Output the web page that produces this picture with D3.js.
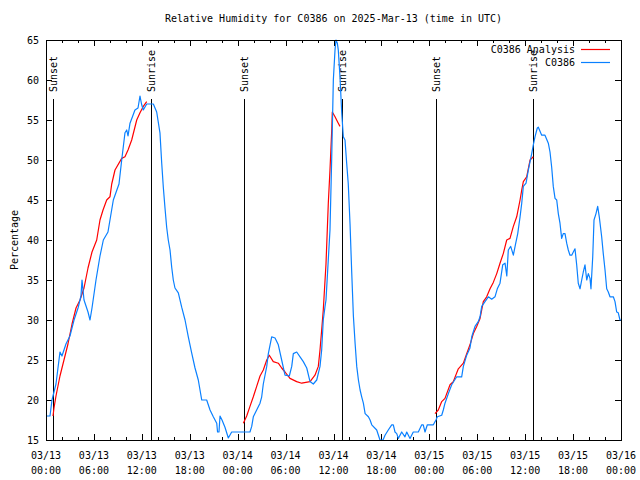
<!DOCTYPE html>
<html lang="en">
<head>
  <meta charset="UTF-8">
  <title>Relative Humidity for C0386</title>
  <script src="https://cdn.jsdelivr.net/npm/d3@7"></script>
  <style>
    body { margin: 0; background: #fff; }
    svg { font-family: "DejaVu Sans Mono", monospace; font-size: 10px; }
  </style>
</head>
<body>
<div id="chart"></div>
<script>
  const TITLE = 'Relative Humidity for C0386 on 2025-Mar-13 (time in UTC)'
  const Y_LABEL = 'Percentage'
  const START = Date.UTC(2025, 2, 13)
  const END = Date.UTC(2025, 2, 16)
  const Y_TICKS = [15, 20, 25, 30, 35, 40, 45, 50, 55, 60, 65]
  const SERIES_NAMES = ['C0386 Analysis', 'C0386']
  const SERIES_COLORS = ['#ff0000', '#0a80ff']

  // [hours since 03/13 00:00 UTC, event]
  const sunEvents = [
    [0.88, 'Sunset'], [13.17, 'Sunrise'],
    [24.9, 'Sunset'], [37.15, 'Sunrise'],
    [48.92, 'Sunset'], [61.1, 'Sunrise']
  ]

  // observed station values, [hour, %]
  const observed = [
    [0, 18], [0.5, 18], [0.75, 20], [1.25, 22], [1.75, 26], [2, 25.5], [2.5, 27], [3, 28],
    [3.51, 30], [4.01, 31.5], [4.38, 33], [4.51, 35], [4.76, 32.5], [5.26, 31], [5.51, 30],
    [5.76, 31.5], [6.26, 35], [6.76, 38], [7.18, 40], [7.76, 41], [8.43, 45], [9.14, 47],
    [9.48, 50], [9.89, 53.4], [10.11, 53.75], [10.27, 53], [10.52, 54.6], [11.14, 56.25],
    [11.52, 56.5], [11.77, 58], [11.96, 57], [12.18, 56.25], [12.61, 57], [13.02, 57],
    [13.44, 57], [13.86, 56], [14.27, 53.4], [14.49, 49.6], [14.69, 46.6], [14.9, 44],
    [15.11, 41.6], [15.31, 40], [15.53, 38.75], [15.74, 36.6], [15.94, 35], [16.15, 34],
    [16.57, 33.4], [16.99, 31.6], [17.41, 30], [17.82, 27.9], [18.24, 25.9], [18.66, 24],
    [19.07, 22.5], [19.5, 20], [20.12, 20], [20.54, 18.75], [20.95, 17.9], [21.38, 17.1],
    [21.48, 16], [21.66, 16], [21.79, 18], [22.04, 17.5], [22.41, 16.6], [22.83, 15.25],
    [23.25, 16], [25.54, 16], [25.76, 16.7], [25.96, 17.9], [26.38, 18.75], [26.8, 19.6],
    [27.01, 20.4], [27.21, 22], [27.64, 24.2], [27.84, 25.8], [28.26, 27.9], [28.68, 27.75],
    [29.09, 26.9], [29.51, 25], [29.93, 23.1], [30.47, 23], [30.77, 24.2], [30.97, 25.8],
    [31.39, 26], [31.81, 25.4], [32.22, 24.8], [32.65, 24], [33.06, 22.3], [33.47, 22],
    [33.9, 22.5], [34.31, 24.2], [34.52, 26.25], [34.72, 30], [34.94, 31.7], [35.06, 32.5],
    [35.56, 41.25], [35.78, 50.4], [35.98, 60], [36.19, 63.75], [36.31, 65], [36.48, 64.6],
    [36.6, 63.75], [36.81, 60.4], [37.03, 55.9], [37.23, 52.9], [37.44, 52.5], [37.65, 49.6],
    [37.85, 47], [38.07, 42], [38.28, 36], [38.49, 30.5], [38.71, 27], [38.91, 24.2],
    [39.12, 22.5], [39.33, 21.25], [39.53, 20.4], [39.74, 19.6], [39.96, 18.3], [40.37, 17.9],
    [40.58, 17.5], [40.79, 16.9], [41.41, 16.25], [41.82, 15], [42.2, 15], [42.45, 15.6],
    [42.86, 16.25], [43.29, 16.9], [43.49, 16.9], [43.7, 16], [43.92, 15.8], [44.12, 15.2],
    [44.54, 16], [44.95, 15.4], [45.17, 16], [45.58, 15.2], [45.99, 16], [46.62, 16],
    [47.05, 16.9], [47.24, 16.9], [47.46, 16], [47.75, 16.9], [48.5, 16.9], [48.83, 17.5],
    [49, 17.9], [49.55, 18.1], [49.75, 18.75], [49.96, 19.6], [50.38, 20.8], [50.8, 21.9],
    [51.43, 22.9], [52.05, 22.9], [52.26, 24.2], [52.68, 25.6], [53.09, 26.5], [53.31, 27.9],
    [53.72, 29.2], [54.13, 29.8], [54.35, 30.4], [54.56, 31.7], [54.97, 32.3], [55.39, 32.9],
    [55.81, 32.6], [56.22, 32.9], [56.51, 33.9], [56.85, 34.6], [57.19, 36.9], [57.48, 37.1],
    [57.7, 35.5], [57.89, 38.75], [58.19, 39.2], [58.52, 38.1], [58.82, 39.6], [59.07, 40.8],
    [59.36, 42.9], [59.57, 44.6], [59.77, 46.7], [60.11, 47.1], [60.4, 48.75], [60.82, 50.8],
    [61.02, 51.9], [61.23, 52.9], [61.52, 54], [61.65, 54.1], [62.07, 53.1], [62.48, 53.1],
    [62.9, 52.1], [63.11, 51], [63.32, 49.1], [63.52, 46.7], [63.74, 45.2], [63.95, 45],
    [64.15, 43.3], [64.36, 42.1], [64.57, 40.2], [64.77, 40.8], [64.99, 40.8], [65.2, 39.6],
    [65.4, 38.75], [65.61, 38.1], [65.83, 38.1], [66.03, 38.5], [66.24, 38.9], [66.45, 36.9],
    [66.65, 34.6], [66.87, 33.9], [67.08, 35], [67.28, 36], [67.49, 36.9], [67.71, 35],
    [67.91, 35.8], [68.12, 35.2], [68.24, 33.9], [68.46, 37.9], [68.62, 42.5], [68.87, 43.3],
    [69.08, 44.2], [69.28, 42.9], [69.58, 40.4], [69.78, 38.3], [70, 36.25], [70.21, 33.9],
    [70.41, 33.5], [70.62, 32.9], [71.04, 32.9], [71.25, 32.3], [71.46, 31], [71.66, 30.9],
    [71.87, 30], [72, 30]
  ]

  // analysis values, one run per night
  const analysisNight1 = [
    [0.88, 18], [1, 19], [1.25, 20.5], [1.75, 23], [2.25, 25], [2.75, 27], [3.26, 29.5],
    [3.76, 31.5], [4.26, 32.5], [4.76, 34], [5.26, 36.5], [5.76, 38.5], [6.35, 40],
    [6.76, 42.5], [7.14, 43.75], [7.6, 45], [8.01, 45.4], [8.23, 47], [8.64, 48.75],
    [9.48, 50.2], [9.89, 50.4], [10.27, 51.25], [10.73, 52.5], [11.36, 55], [11.77, 55.9],
    [12.18, 56.7], [12.61, 57.3]
  ]
  const analysisNight2 = [
    [24.71, 17.1], [25.13, 18], [25.54, 19.2], [25.96, 20.4], [26.38, 21.7], [26.8, 23],
    [27.21, 23.75], [27.64, 25], [27.96, 25.6], [28.46, 24.8], [29.09, 24.6], [29.51, 24],
    [29.93, 23.5], [30.55, 22.7], [31.39, 22.3], [32.02, 22.1], [33.06, 22.3], [33.68, 23.1],
    [34.1, 24.2], [34.31, 26.25], [34.52, 28.75], [34.72, 31.25], [35.06, 37], [35.35, 44.6],
    [35.56, 48.75], [35.78, 53.75], [35.85, 56], [36.19, 55.4], [36.6, 54.6], [36.81, 54.2]
  ]
  const analysisNight3 = [
    [48.71, 18.3], [49.12, 18.75], [49.55, 19.8], [49.96, 20.2], [50.59, 21.9], [51, 22.3],
    [51.63, 23.9], [52.26, 24.6], [52.68, 25.8], [53.09, 26.9], [53.51, 28.3], [53.93, 29.2],
    [54.35, 30.2], [54.76, 32.3], [55.18, 32.9], [55.6, 33.9], [56.01, 34.7], [56.44, 35.8],
    [56.85, 37.1], [57.26, 38.3], [57.69, 40], [58.1, 40.2], [58.52, 41.7], [58.94, 42.9],
    [59.36, 45], [59.57, 46.25], [59.77, 47.3], [60.19, 47.9], [60.61, 50], [61.02, 50.4]
  ]

  const width = 640
  const height = 480
  const marginTop = 40
  const marginRight = 19
  const marginBottom = 40
  const marginLeft = 46
  const plotH = height - marginTop - marginBottom

  const hourToDate = h => new Date(START + h * 3600e3)

  const x = d3.scaleUtc()
    .domain([new Date(START), new Date(END)])
    .range([marginLeft, width - marginRight])

  const y = d3.scaleLinear()
    .domain([15, 65])
    .range([height - marginBottom, marginTop])

  const svg = d3.select('#chart')
    .append('svg')
    .attr('width', width)
    .attr('height', height)

  // title and y label
  svg.append('text')
    .attr('x', (marginLeft + width - marginRight) / 2)
    .attr('y', 22)
    .attr('text-anchor', 'middle')
    .text(TITLE)

  svg.append('text')
    .attr('transform', `translate(14,${marginTop + plotH / 2}) rotate(-90)`)
    .attr('text-anchor', 'middle')
    .attr('dy', '0.35em')
    .text(Y_LABEL)

  // axes: ticks point inwards, mirrored on top/right
  const majorTicks = d3.utcHour.every(6).range(new Date(START), new Date(END + 1))
  const minorTicks = d3.utcHour.every(2).range(new Date(START), new Date(END + 1))
    .filter(d => d.getUTCHours() % 6 !== 0)

  const noDomain = g => g.select('.domain').remove()

  svg.append('g')
    .attr('transform', `translate(0,${height - marginBottom})`)
    .call(d3.axisBottom(x).tickValues(majorTicks).tickSize(-6).tickFormat(''))
    .call(noDomain)
  svg.append('g')
    .attr('transform', `translate(0,${height - marginBottom})`)
    .call(d3.axisBottom(x).tickValues(minorTicks).tickSize(-3).tickFormat(''))
    .call(noDomain)
  svg.append('g')
    .attr('transform', `translate(0,${marginTop})`)
    .call(d3.axisTop(x).tickValues(majorTicks).tickSize(-6).tickFormat(''))
    .call(noDomain)
  svg.append('g')
    .attr('transform', `translate(0,${marginTop})`)
    .call(d3.axisTop(x).tickValues(minorTicks).tickSize(-3).tickFormat(''))
    .call(noDomain)

  svg.append('g')
    .attr('transform', `translate(${marginLeft},0)`)
    .call(d3.axisLeft(y).tickValues(Y_TICKS).tickSize(-6).tickPadding(7))
    .call(noDomain)
  svg.append('g')
    .attr('transform', `translate(${width - marginRight},0)`)
    .call(d3.axisRight(y).tickValues(Y_TICKS).tickSize(-6).tickFormat(''))
    .call(noDomain)

  svg.selectAll('.tick text')
    .attr('font-family', '"DejaVu Sans Mono", monospace')
    .attr('font-size', 10)
    .attr('fill', '#000')
  svg.selectAll('.tick line').attr('shape-rendering', 'crispEdges')

  // two-line time labels
  const dateFmt = d3.utcFormat('%m/%d')
  const timeFmt = d3.utcFormat('%H:%M')
  const xLabels = svg.append('g')
    .selectAll('text')
    .data(majorTicks)
    .join('text')
    .attr('x', d => x(d))
    .attr('text-anchor', 'middle')
  xLabels.append('tspan').attr('x', d => x(d)).attr('y', height - marginBottom + 19).text(dateFmt)
  xLabels.append('tspan').attr('x', d => x(d)).attr('y', height - marginBottom + 34).text(timeFmt)

  // sunrise / sunset markers
  const sun = svg.append('g')
    .selectAll('g')
    .data(sunEvents)
    .join('g')
  sun.append('line')
    .attr('x1', d => x(hourToDate(d[0])))
    .attr('x2', d => x(hourToDate(d[0])))
    .attr('y1', height - marginBottom)
    .attr('y2', marginTop + 0.147 * plotH)
    .attr('stroke', '#000')
    .attr('shape-rendering', 'crispEdges')
  sun.append('text')
    .attr('transform', d => `translate(${x(hourToDate(d[0]))},${marginTop + 0.13 * plotH}) rotate(-90)`)
    .attr('dy', '0.35em')
    .text(d => d[1])

  // data lines
  const line = d3.line()
    .x(d => x(hourToDate(d[0])))
    .y(d => y(d[1]))

  const plot = svg.append('g')
    .attr('fill', 'none')
    .attr('stroke-width', 1.2)
    .attr('stroke-linejoin', 'round')

  plot.selectAll('.analysis')
    .data([analysisNight1, analysisNight2, analysisNight3])
    .join('path')
    .attr('class', 'analysis')
    .attr('stroke', SERIES_COLORS[0])
    .attr('d', line)

  plot.append('path')
    .datum(observed)
    .attr('stroke', SERIES_COLORS[1])
    .attr('d', line)

  // border
  svg.append('rect')
    .attr('x', marginLeft)
    .attr('y', marginTop)
    .attr('width', width - marginLeft - marginRight)
    .attr('height', plotH)
    .attr('fill', 'none')
    .attr('stroke', '#000')
    .attr('shape-rendering', 'crispEdges')

  // legend
  const legend = svg.append('g')
    .selectAll('g')
    .data(SERIES_NAMES)
    .join('g')
    .attr('transform', (d, i) => `translate(0,${49.5 + i * 13})`)
  legend.append('text')
    .attr('x', 575)
    .attr('dy', '0.35em')
    .attr('text-anchor', 'end')
    .text(d => d)
  legend.append('line')
    .attr('x1', 581)
    .attr('x2', 610)
    .attr('stroke', (d, i) => SERIES_COLORS[i])
    .attr('stroke-width', 1.2)
</script>
</body>
</html>
